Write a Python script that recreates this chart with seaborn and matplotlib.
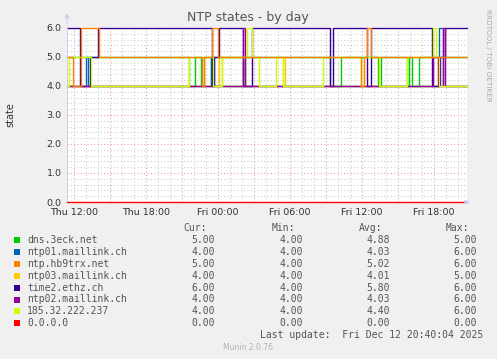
import matplotlib
matplotlib.use("Agg")
import matplotlib.pyplot as plt
import pandas as pd
import seaborn as sns
from matplotlib.patches import Rectangle
from matplotlib.ticker import MultipleLocator, FuncFormatter

# ---------------- data (hours since Thu 00:00, step changes) ----------------
hosts = ["dns.3eck.net", "ntp01.maillink.ch", "ntp.hb9trx.net", "ntp03.maillink.ch",
         "time2.ethz.ch", "ntp02.maillink.ch", "185.32.222.237", "0.0.0.0"]
colors = ["#00CC00", "#0066B3", "#FF8000", "#FFCC00", "#330099", "#990099", "#CCFF00", "#FF0000"]

start_hour = 11.42
end_hour = 44.75

dns_t = [11.42, 21.58, 22.08, 22.58, 22.83, 23.42, 23.58, 26.08, 26.25, 33.33, 34.25, 37.33, 37.58, 39.75, 39.92, 40.17, 40.75]
dns_v = [5, 4, 5, 4, 5, 4, 5, 4, 5, 4, 5, 4, 5, 4, 5, 4, 5]

ntp01_t = [11.42, 13.0, 13.17, 23.42, 23.67, 42.42, 42.75]
ntp01_v = [4, 5, 4, 5, 4, 6, 4]

hb9trx_t = [11.42, 11.92, 12.58, 14.08, 22.67, 22.83, 23.5, 24.0, 35.92, 36.17, 36.42, 36.75]
hb9trx_v = [5, 4, 6, 5, 4, 5, 6, 5, 4, 5, 6, 5]

ntp03_t = [11.42, 24.08, 24.33, 29.42, 29.58]
ntp03_v = [4, 5, 4, 5, 4]

time2_t = [11.42, 12.5, 13.33, 14.0, 23.5, 23.67, 24.08, 26.08, 26.83, 33.33, 33.58, 36.42, 36.75, 41.83, 42.5, 42.92]
time2_v = [6, 4, 5, 6, 4, 5, 6, 4, 6, 4, 6, 4, 6, 4, 5, 6]

ntp02_t = [11.42, 26.08, 26.25, 41.92, 42.33, 42.75, 42.92]
ntp02_v = [4, 6, 4, 5, 4, 6, 4]

ip185_t = [11.42, 11.58, 13.42, 21.58, 23.58, 24.33, 26.42, 26.83, 27.42, 28.83, 29.42, 32.75, 35.92, 36.17, 37.42, 39.75, 41.92, 42.17, 42.42]
ip185_v = [4, 5, 4, 5, 4, 5, 6, 5, 4, 5, 4, 5, 4, 5, 4, 5, 6, 5, 4]

zero_t = [11.42]
zero_v = [0]

cur_vals = ["5.00", "4.00", "5.00", "4.00", "6.00", "4.00", "4.00", "0.00"]
min_vals = ["4.00", "4.00", "4.00", "4.00", "4.00", "4.00", "4.00", "0.00"]
avg_vals = ["4.88", "4.03", "5.02", "4.01", "5.80", "4.03", "4.40", "0.00"]
max_vals = ["5.00", "6.00", "6.00", "5.00", "6.00", "6.00", "6.00", "0.00"]

x_tick_hours = [12, 18, 24, 30, 36, 42]
x_tick_labels = ["Thu 12:00", "Thu 18:00", "Fri 00:00", "Fri 06:00", "Fri 12:00", "Fri 18:00"]

series = [(dns_t, dns_v), (ntp01_t, ntp01_v), (hb9trx_t, hb9trx_v), (ntp03_t, ntp03_v),
          (time2_t, time2_v), (ntp02_t, ntp02_v), (ip185_t, ip185_v), (zero_t, zero_v)]

rows = []
for h, (ts, vs) in zip(hosts, series):
    for t, v in zip(list(ts) + [end_hour], list(vs) + [vs[-1]]):
        rows.append({"host": h, "hour": t, "state": v})
df = pd.DataFrame(rows)

# ---------------- figure ----------------
sns.set_style("white")
plt.rcParams["font.family"] = ["DejaVu Sans"]
W, H = 497, 359
fig = plt.figure(figsize=(W / 100, H / 100), dpi=100, facecolor="#F0F0F0")
L, R, T, B = 67, 467, 26.5, 202
ax = fig.add_axes([L / W, 1 - B / H, (R - L) / W, (B - T) / H])
ax.set_facecolor("white")

ax.set_xlim(start_hour, end_hour)
ax.set_ylim(0, 6.05)
ax.xaxis.set_major_locator(MultipleLocator(3))
ax.xaxis.set_minor_locator(MultipleLocator(1))
ax.yaxis.set_major_locator(MultipleLocator(1))
ax.yaxis.set_minor_locator(MultipleLocator(0.2))
lab = dict(zip(x_tick_hours, x_tick_labels))
ax.xaxis.set_major_formatter(FuncFormatter(lambda v, p: lab.get(int(round(v)), "") if abs(v - round(v)) < 1e-6 else ""))
ax.yaxis.set_major_formatter(FuncFormatter(lambda v, p: f"{v:.1f}"))

ax.grid(which="minor", color="#CFCFCF", linestyle=(0, (1, 2)), linewidth=0.8)
ax.grid(which="major", color="#E8A4A4", linestyle=(0, (1, 2)), linewidth=0.8)
ax.set_axisbelow(True)

sns.lineplot(data=df, x="hour", y="state", hue="host", hue_order=hosts,
             palette=dict(zip(hosts, colors)), drawstyle="steps-post",
             estimator=None, sort=False, linewidth=1.0, legend=False, ax=ax)
for ln in ax.lines:
    ln.set_clip_on(False)
# the orange line shows on top at level 5 in the reference
ax.lines[2].set_zorder(2.5)
ax.lines[7].set_zorder(2.6)

for s in ["top", "right"]:
    ax.spines[s].set_visible(False)
ax.spines["left"].set_color("#C8C8E0")
ax.spines["left"].set_linewidth(0.6)
ax.spines["bottom"].set_color("#E59A9A")
ax.spines["bottom"].set_linewidth(0.6)

ax.tick_params(axis="both", which="major", length=2, color="#E59A9A", labelsize=6.8,
               labelcolor="#333333", pad=2)
ax.tick_params(axis="both", which="minor", length=1.5, color="#C8C8C8")
ax.set_xlabel("")
ax.set_ylabel("")

# axis arrows
ax.annotate("", xy=(1.012, 0), xycoords="axes fraction", xytext=(0.995, 0),
            arrowprops=dict(arrowstyle="-|>", color="#C8C8F0", lw=0.6, mutation_scale=6), annotation_clip=False)
ax.annotate("", xy=(0, 1.09), xycoords="axes fraction", xytext=(0, 1.0),
            arrowprops=dict(arrowstyle="-|>", color="#C8C8F0", lw=0.6, mutation_scale=6), annotation_clip=False)

def fx(x):
    return x / W

def fy(y):
    return 1 - y / H

fig.text(fx(248), fy(18), "NTP states - by day", ha="center", va="center", fontsize=9, color="#555555")
fig.text(fx(10), fy(115), "state", ha="center", va="center", rotation=90, fontsize=7, color="#333333")
fig.text(fx(488), fy(55), "RRDTOOL / TOBI OETIKER", ha="center", va="center", rotation=-90,
         fontsize=5.2, color="#AAAAAA")

mono = "DejaVu Sans Mono"
hdr_y = 228
for txt, xr in [("Cur:", 207), ("Min:", 295), ("Avg:", 382), ("Max:", 469)]:
    fig.text(fx(xr), fy(hdr_y), txt, ha="right", va="center", fontsize=7, family=mono, color="#555555")

row_y0, row_dy = 240, 11.9
for i, h in enumerate(hosts):
    y = row_y0 + i * row_dy
    fig.patches.append(Rectangle((fx(14), fy(y + 3)), 6 / W, 6 / H, transform=fig.transFigure,
                                 facecolor=colors[i], edgecolor="none"))
    fig.text(fx(27), fy(y), h, ha="left", va="center", fontsize=7, family=mono, color="#555555")
    for vals, xr in [(cur_vals, 215), (min_vals, 303), (avg_vals, 390), (max_vals, 477)]:
        fig.text(fx(xr), fy(y), vals[i], ha="right", va="center", fontsize=7, family=mono, color="#555555")

fig.text(fx(483), fy(335.5), "Last update:  Fri Dec 12 20:40:04 2025", ha="right", va="center",
         fontsize=7, family=mono, color="#555555")
fig.text(fx(248), fy(348), "Munin 2.0.76", ha="center", va="center", fontsize=5.5, color="#B4B4B4")

fig.savefig("out.png", dpi=100, facecolor=fig.get_facecolor())
